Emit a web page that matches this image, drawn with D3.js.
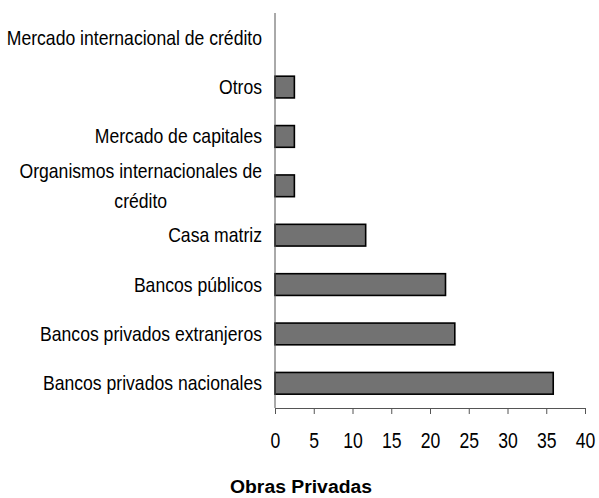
<!DOCTYPE html>
<html>
<head>
<meta charset="utf-8">
<script src="https://cdn.jsdelivr.net/npm/d3@7"></script>
<style>
  body { margin: 0; background: #fff; }
  .lbl { font-family: "Liberation Sans", Arial, sans-serif; font-size: 20px; fill: #000; }
  .tk { font-family: "Liberation Sans", Arial, sans-serif; font-size: 22px; fill: #000; }
</style>
</head>
<body>
<div id="chart"></div>
<script>
// categories, top to bottom
const categories = [
  'Mercado internacional de crédito',
  'Otros',
  'Mercado de capitales',
  'Organismos internacionales de|crédito',
  'Casa matriz',
  'Bancos públicos',
  'Bancos privados extranjeros',
  'Bancos privados nacionales'
];
const values = [0, 2.5, 2.5, 2.5, 11.7, 22.0, 23.2, 35.9];
const xTicks = [0, 5, 10, 15, 20, 25, 30, 35, 40];
const title = 'Obras Privadas';

const width = 599;
const height = 498;
const margin = { top: 13, right: 14, bottom: 90, left: 275 };
const narrow = 0.88; // squeeze to look like a narrow face

const svg = d3.select('#chart')
  .append('svg')
  .attr('width', width)
  .attr('height', height);

const x = d3.scaleLinear()
  .domain([0, 40])
  .range([margin.left, width - margin.right]);

const y = d3.scaleBand()
  .domain(categories)
  .range([margin.top, height - margin.bottom])
  .paddingInner(0.56)
  .paddingOuter(0.28);

// bars
svg.selectAll('.bar')
  .data(categories.map((c, i) => ({ cat: c, v: values[i] })))
  .enter()
  .append('rect')
  .attr('class', 'bar')
  .attr('x', x(0))
  .attr('y', d => y(d.cat))
  .attr('width', d => x(d.v) - x(0))
  .attr('height', y.bandwidth())
  .style('fill', d => d.v > 0 ? '#727272' : 'none')
  .style('stroke', d => d.v > 0 ? '#000' : 'none')
  .style('stroke-width', 1.6);

// x axis
const xAxis = svg.append('g')
  .attr('transform', `translate(0,${height - margin.bottom})`)
  .call(d3.axisBottom(x).tickValues(xTicks).tickSize(6).tickPadding(18));
xAxis.select('.domain').attr('stroke', '#555');
xAxis.selectAll('.tick line').attr('stroke', '#555');
xAxis.selectAll('text')
  .attr('class', 'tk')
  .attr('fill', '#000')
  .attr('transform', 'scale(0.8,1)');

// y axis line only
svg.append('line')
  .attr('x1', x(0)).attr('x2', x(0))
  .attr('y1', margin.top).attr('y2', height - margin.bottom)
  .attr('stroke', '#555');

// category labels
const labelX = margin.left - 13;
function addLabel(txt, lx, ly, anchor) {
  return svg.append('text')
    .attr('class', 'lbl')
    .attr('transform', `translate(${lx},${ly}) scale(${narrow},1)`)
    .attr('dy', '0.35em')
    .attr('text-anchor', anchor)
    .text(txt);
}
categories.forEach(c => {
  const parts = c.split('|');
  const cy = y(c) + y.bandwidth() / 2;
  if (parts.length === 1) {
    addLabel(c, labelX, cy, 'end');
  } else {
    const first = addLabel(parts[0], labelX, cy - 15, 'end');
    const w = first.node().getComputedTextLength() * narrow;
    addLabel(parts[1], labelX - w / 2, cy + 15, 'middle');
  }
});

// title
svg.append('text')
  .attr('x', 301)
  .attr('y', 493)
  .attr('text-anchor', 'middle')
  .attr('textLength', 142)
  .attr('lengthAdjust', 'spacingAndGlyphs')
  .style('font-family', '"Liberation Sans", Arial, sans-serif')
  .style('font-weight', 'bold')
  .style('font-size', '17.5px')
  .text(title);
</script>
</body>
</html>
